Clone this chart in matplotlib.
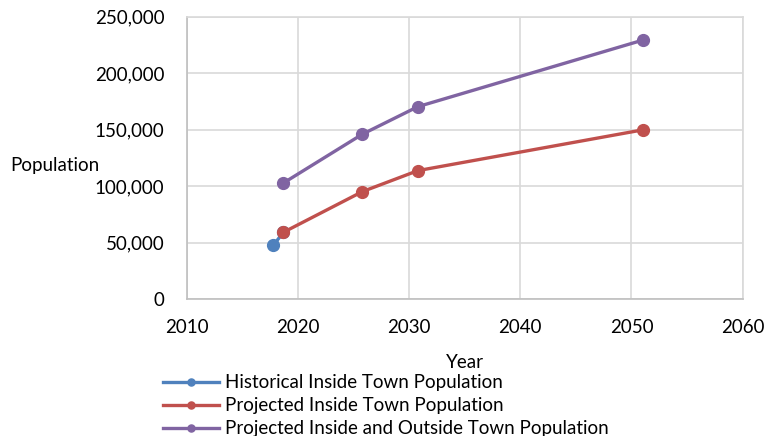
import matplotlib
matplotlib.use("Agg")
import matplotlib.pyplot as plt
from matplotlib.ticker import FuncFormatter

# Population series (year, people)
hist_years = [2017.8, 2018.7]
hist_pop = [47600, 59100]
proj_years = [2018.7, 2025.8, 2030.8, 2051.0]
proj_inside = [59100, 95100, 113700, 149700]
proj_total = [102700, 145900, 170300, 229100]

labels = ["Historical Inside Town Population",
          "Projected Inside Town Population",
          "Projected Inside and Outside Town Population"]
colors = ["#4F81BD", "#C0504D", "#8064A2"]

plt.rcParams["font.family"] = ["Lato", "DejaVu Sans"]
FS = 13.5

fig = plt.figure(figsize=(7.68, 4.36), dpi=100)
ax = fig.add_axes([0.243, 0.314, 0.724, 0.648])

h1, = ax.plot(hist_years, hist_pop, color=colors[0], lw=2.4, marker="o", ms=8.5, zorder=3)
h2, = ax.plot(proj_years, proj_inside, color=colors[1], lw=2.4, marker="o", ms=8.5, zorder=4)
h3, = ax.plot(proj_years, proj_total, color=colors[2], lw=2.4, marker="o", ms=8.5, zorder=4)

ax.set_xlim(2010, 2060)
ax.set_ylim(0, 250000)
ax.set_xticks(range(2010, 2061, 10))
ax.set_yticks(range(0, 250001, 50000))
ax.yaxis.set_major_formatter(FuncFormatter(lambda v, p: f"{int(v):,}"))
ax.grid(True, color="#d9d9d9", lw=1.2)
ax.set_axisbelow(True)
for s in ["top", "right"]:
    ax.spines[s].set_color("#d9d9d9")
    ax.spines[s].set_linewidth(1.2)
for s in ["left", "bottom"]:
    ax.spines[s].set_color("#bfbfbf")
    ax.spines[s].set_linewidth(1.2)
ax.tick_params(axis="x", length=0, pad=14, labelsize=FS)
ax.tick_params(axis="y", length=0, pad=16, labelsize=FS)

ax.set_xlabel("Year", fontsize=FS, labelpad=13)
fig.text(0.013, 0.62, "Population", fontsize=FS, va="center", ha="left")

fig.legend([h1, h2, h3], labels, loc="upper left", bbox_to_anchor=(0.212, 0.142),
           frameon=False, handlelength=3.0, handletextpad=0.3, labelspacing=0.33,
           borderaxespad=0, borderpad=0, fontsize=FS, markerscale=0.6)

fig.savefig("out.png", dpi=100)
